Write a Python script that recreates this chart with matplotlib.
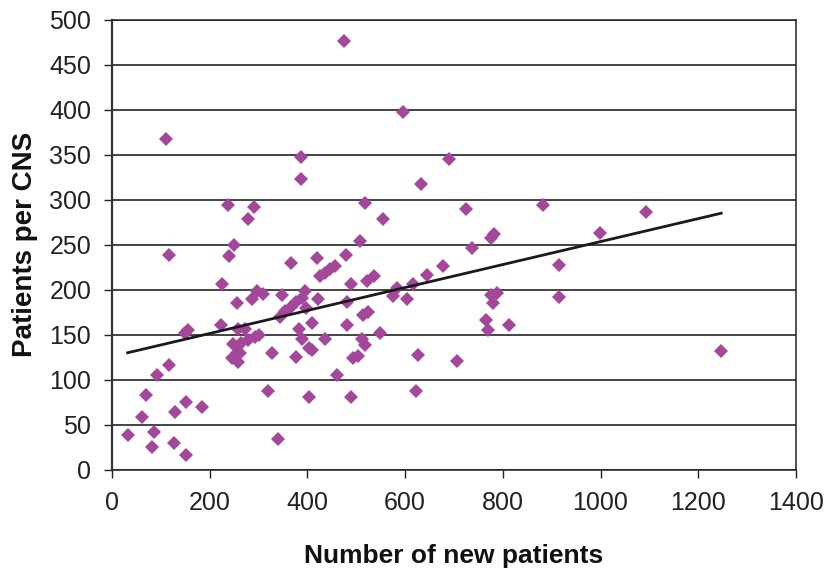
import matplotlib
matplotlib.use("Agg")
import matplotlib.pyplot as plt
import numpy as np

plt.rcParams['font.family'] = ['Liberation Sans', 'DejaVu Sans']

# number of new patients vs patients per CNS
new_patients = [474, 110, 596, 387, 387, 690, 632, 237, 290, 278, 518, 555, 507, 249,
                724, 883, 1092, 776, 782, 998, 736,
                677, 645, 915, 915, 776, 789, 779, 765, 769, 813, 707, 1247, 626, 622,
                117, 240, 367, 420, 478, 426, 436, 446, 456,
                225, 490, 521, 536, 583, 576, 617, 604,
                296, 286, 310, 256, 347, 396, 421,
                344, 355, 366, 377, 388, 397,
                409, 482, 482, 514, 525,
                224, 150, 156, 258, 272,
                383, 388, 300, 293, 279, 265, 255, 248,
                437, 404, 409, 327, 376,
                511, 518, 548, 494, 504,
                461, 117, 93, 320, 404, 490, 69, 61, 32, 85, 81, 130, 151, 184, 127, 151, 340,
                245, 257, 255, 262]
per_cns = [476, 367, 398, 347, 323, 345, 318, 294, 292, 279, 297, 279, 254, 250,
           290, 294, 287, 258, 262, 263, 246,
           226, 217, 228, 192, 194, 197, 185, 166, 155, 161, 121, 132, 128, 88,
           239, 238, 230, 235, 239, 215, 219, 223, 227,
           206, 206, 210, 215, 202, 193, 207, 190,
           199, 190, 195, 185, 194, 199, 190,
           170, 176, 181, 186, 191, 180,
           163, 186, 161, 172, 175,
           161, 152, 155, 156, 157,
           156, 146, 150, 148, 144, 141, 137, 140,
           145, 135, 133, 130, 126,
           146, 139, 152, 124, 127,
           106, 117, 106, 88, 81, 81, 83, 59, 39, 42, 26, 64, 75, 70, 30, 17, 34,
           124, 120, 130, 130]

x_ticks = [0, 200, 400, 600, 800, 1000, 1200, 1400]
y_ticks = [0, 50, 100, 150, 200, 250, 300, 350, 400, 450, 500]

x = np.array(new_patients)
y = np.array(per_cns)

fig = plt.figure(figsize=(8.27, 5.74), dpi=100)
ax = fig.add_axes([0.1354, 0.1812, 0.8271, 0.7845])

ax.plot(x, y, linestyle='none', marker='D', markersize=7, color='#A4479B',
        markeredgewidth=0, zorder=3)

# linear trend line
k, b = np.polyfit(x, y, 1)
xs = np.array([x.min(), x.max()])
ax.plot(xs, k * xs + b, color='#1a1a1a', linewidth=2, zorder=4)

ax.set_xlim(0, 1400)
ax.set_ylim(0, 500)
ax.set_xticks(x_ticks)
ax.set_yticks(y_ticks)
ax.yaxis.grid(True, color='#111111', linewidth=1.1)
ax.set_axisbelow(True)

for s in ['top', 'right', 'bottom']:
    ax.spines[s].set_color('#222222')
    ax.spines[s].set_linewidth(1.1)
ax.spines['left'].set_color('#333333')
ax.spines['left'].set_linewidth(1.6)

ax.tick_params(direction='out', length=6, width=1, colors='#222222',
               labelsize=18, labelcolor='#222222')
ax.tick_params(axis='x', pad=9)
ax.tick_params(axis='y', pad=9)

ax.set_xlabel('Number of new patients', fontsize=19, fontweight='bold',
              labelpad=21, color='#111111')
ax.set_ylabel('Patients per CNS', fontsize=20, fontweight='bold',
              labelpad=8, color='#111111')

fig.savefig('out.png', dpi=100)
